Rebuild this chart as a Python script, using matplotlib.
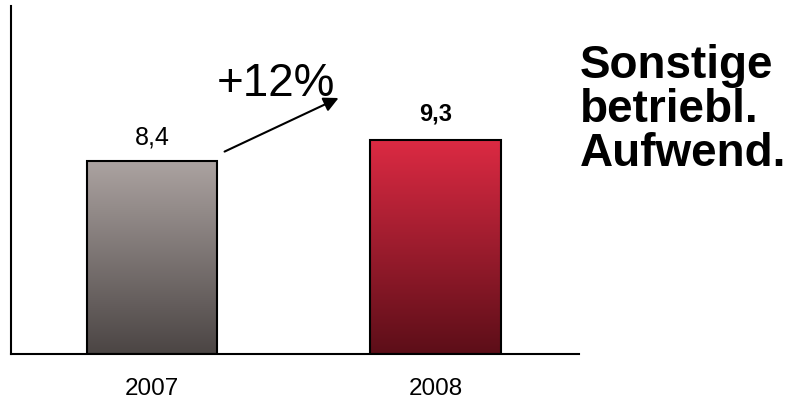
import matplotlib
matplotlib.use("Agg")
import matplotlib.pyplot as plt
import numpy as np
from matplotlib.colors import LinearSegmentedColormap

plt.rcParams['font.family'] = ['Liberation Sans', 'DejaVu Sans']

# --- data ---
years = ['2007', '2008']
values = [8.4, 9.3]
value_labels = ['8,4', '9,3']
change_label = '+12%'
title_lines = ['Sonstige', 'betriebl.', 'Aufwend.']

# gradient colours (top, bottom) per bar
grad_colors = [('#aca3a1', '#4b4544'), ('#dc2a43', '#5c0e18')]

fig = plt.figure(figsize=(7.94, 4.04), dpi=100)
ax = fig.add_axes([0.0139, 0.124, 0.715, 0.861])

x = np.arange(len(years))
bar_width = 0.46
bars = ax.bar(x, values, width=bar_width, facecolor='none', edgecolor='black',
              linewidth=1.5, zorder=3)

ax.set_xlim(-0.497, 1.505)
ax.set_ylim(0, 15.13)

# fill each bar with a vertical gradient, clipped to the bar
grad = np.linspace(1, 0, 256).reshape(-1, 1)
for bar, (top, bottom) in zip(bars, grad_colors):
    cmap = LinearSegmentedColormap.from_list('g', [bottom, top])
    x0, y0 = bar.get_x(), bar.get_y()
    w, h = bar.get_width(), bar.get_height()
    im = ax.imshow(grad, cmap=cmap, vmin=0, vmax=1, aspect='auto',
                   extent=[x0, x0 + w, y0, y0 + h], zorder=2)
    im.set_clip_path(bar)

# value labels above bars
ax.text(x[0], values[0] + 0.5, value_labels[0], ha='center', va='bottom',
        fontsize=18)
ax.text(x[1], values[1] + 0.65, value_labels[1], ha='center', va='bottom',
        fontsize=17, fontweight='bold')

# growth arrow and label
ax.annotate('', xy=(0.658, 11.13), xytext=(0.256, 8.8),
            arrowprops=dict(arrowstyle='-|>', color='black', lw=1.5,
                            mutation_scale=22, shrinkA=0, shrinkB=0))
ax.text(0.437, 11.75, change_label, ha='center', va='center', fontsize=33)

# axes styling
for side in ['top', 'right']:
    ax.spines[side].set_visible(False)
for side in ['left', 'bottom']:
    ax.spines[side].set_linewidth(1.5)
    ax.spines[side].set_color('black')
ax.set_yticks([])
ax.set_xticks(x)
ax.set_xticklabels(years, fontsize=17.5)
ax.tick_params(axis='x', length=0, pad=17)

# side title
fig.text(0.730, 0.89, '\n'.join(title_lines), ha='left', va='top',
         fontsize=33, fontweight='bold', linespacing=1.0)

fig.savefig('out.png', dpi=100)
